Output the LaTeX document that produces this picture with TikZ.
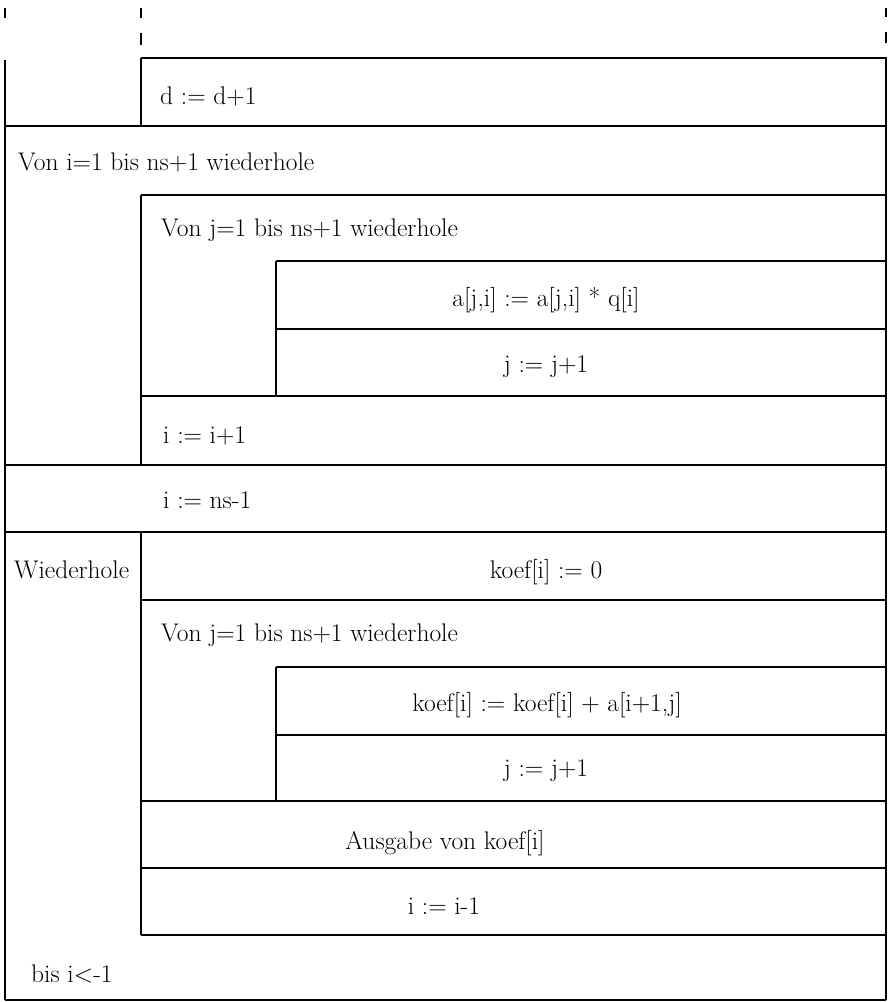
\documentclass[tikz,border=0pt]{standalone}
\usepackage{fontspec}
\begin{document}
\begin{tikzpicture}[x=1pt,y=-1pt,
  hl/.style={line width=1.6pt},
  vl/.style={line width=1.1pt},
  txt/.style={anchor=base west,inner sep=0pt,font=\fontsize{25.5}{30}\selectfont},
  ctxt/.style={anchor=base,inner sep=0pt,font=\fontsize{25.5}{30}\selectfont}]
\useasboundingbox (0,0) rectangle (888,1002);
% stubs
\draw[vl] (5,8) -- (5,18);
\draw[vl] (141,8) -- (141,18) (141,33) -- (141,45);
\draw[vl] (886,8) -- (886,17) (886,32) -- (886,43);
% outer verticals
\draw[vl] (5,60) -- (5,1000);
\draw[vl] (886,57) -- (886,1000);
\draw[vl] (141,58) -- (141,126);
\draw[vl] (141,195) -- (141,465);
\draw[vl] (141,532) -- (141,935);
\draw[vl] (276,261) -- (276,396);
\draw[vl] (276,667) -- (276,801);
% horizontals
\draw[hl] (141,58) -- (886,58);
\draw[hl] (5,126) -- (886,126);
\draw[hl] (141,195) -- (886,195);
\draw[hl] (276,261) -- (886,261);
\draw[hl] (276,329) -- (886,329);
\draw[hl] (141,396) -- (886,396);
\draw[hl] (5,465) -- (886,465);
\draw[hl] (5,532) -- (886,532);
\draw[hl] (141,600) -- (886,600);
\draw[hl] (276,667) -- (886,667);
\draw[hl] (276,735) -- (886,735);
\draw[hl] (141,801) -- (886,801);
\draw[hl] (141,868) -- (886,868);
\draw[hl] (141,935) -- (886,935);
\draw[hl] (5,1000) -- (886,1000);
% texts
\node[txt] (t1) at (160,104) {d := d+1};
\node[txt] (t2) at (18,170) {Von i=1 bis ns+1 wiederhole};
\node[txt] (t3) at (161,236) {Von j=1 bis ns+1 wiederhole};
\node[ctxt] (t4) at (546,306) {a[j,i] := a[j,i] * q[i]};
\node[ctxt] (t5) at (546,372) {j := j+1};
\node[txt] (t6) at (163,443) {i := i+1};
\node[txt] (t7) at (163,508) {i := ns-1};
\node[txt] (t8) at (14,578) {Wiederhole};
\node[ctxt] (t9) at (546,578) {koef[i] := 0};
\node[txt] (t10) at (161,641) {Von j=1 bis ns+1 wiederhole};
\node[ctxt] (t11) at (547,711) {koef[i] := koef[i] + a[i+1,j]};
\node[ctxt] (t12) at (546,776) {j := j+1};
\node[ctxt] (t13) at (445,849) {Ausgabe von koef[i]};
\node[ctxt] (t14) at (444,914) {i := i-1};
\node[txt] (t15) at (31,982) {bis i<-1};
\end{tikzpicture}
\end{document}
